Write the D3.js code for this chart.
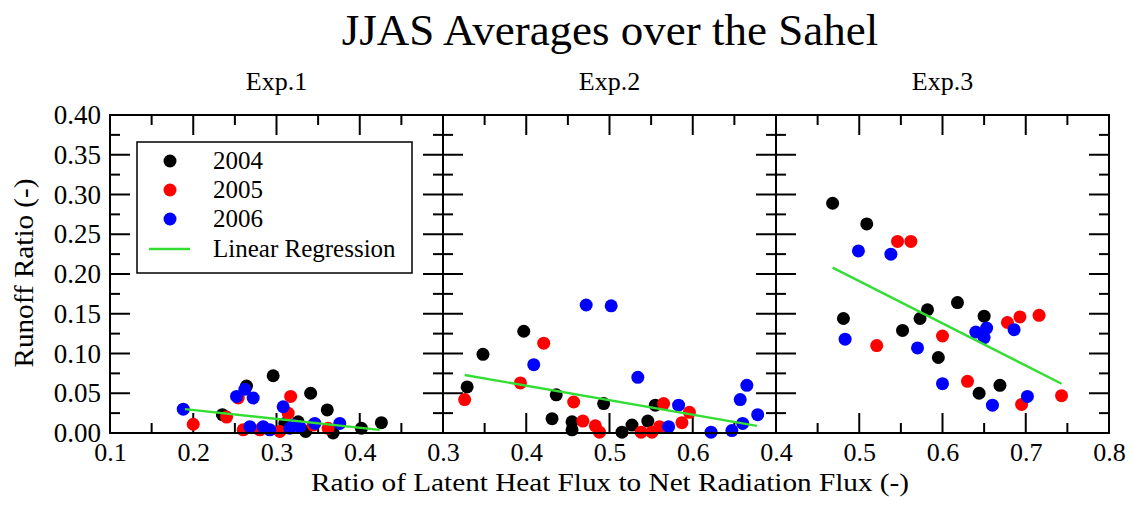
<!DOCTYPE html>
<html><head><meta charset="utf-8">
<script src="https://cdn.jsdelivr.net/npm/d3@7"></script>
<style>body{margin:0;background:#fff}svg{display:block;font-family:"Liberation Serif","Times New Roman",serif}</style>
</head><body><svg id="c" width="1132" height="505"></svg>
<script>
// ---- data ----
const panels = ["Exp.1", "Exp.2", "Exp.3"];
const years = ["2004", "2005", "2006"];
const xDomains = [[0.1, 0.5], [0.3, 0.7], [0.4, 0.8]];
const xTickLabels = [[0.1, 0.2, 0.3, 0.4], [0.3, 0.4, 0.5, 0.6], [0.4, 0.5, 0.6, 0.7, 0.8]];
const yTickLabels = [0, 0.05, 0.1, 0.15, 0.2, 0.25, 0.3, 0.35, 0.4];

// Exp.1 points [x, y]
const exp1_2004 = [[0.296,0.072],[0.341,0.050],[0.361,0.029],[0.264,0.059],[0.235,0.023],[0.326,0.014],[0.402,0.006],[0.426,0.013],[0.335,0.002],[0.368,0.000],[0.310,0.012]];
const exp1_2005 = [[0.200,0.011],[0.240,0.020],[0.317,0.046],[0.314,0.025],[0.260,0.004],[0.254,0.044],[0.304,0.002],[0.362,0.006],[0.344,0.010],[0.280,0.004]];
const exp1_2006 = [[0.188,0.030],[0.252,0.046],[0.262,0.055],[0.272,0.044],[0.308,0.033],[0.268,0.008],[0.284,0.008],[0.292,0.004],[0.316,0.006],[0.328,0.008],[0.346,0.012],[0.376,0.012],[0.320,0.010]];
const exp1_fit = [[0.190,0.030],[0.424,0.004]];

// Exp.2 points
const exp2_2004 = [[0.397,0.128],[0.348,0.099],[0.329,0.058],[0.436,0.048],[0.431,0.018],[0.455,0.014],[0.455,0.004],[0.493,0.037],[0.515,0.001],[0.527,0.010],[0.546,0.015],[0.555,0.035]];
const exp2_2005 = [[0.326,0.042],[0.393,0.063],[0.421,0.113],[0.457,0.039],[0.468,0.015],[0.483,0.009],[0.488,0.001],[0.538,0.001],[0.551,0.001],[0.560,0.008],[0.565,0.037],[0.587,0.013],[0.596,0.026]];
const exp2_2006 = [[0.472,0.161],[0.502,0.160],[0.409,0.086],[0.534,0.070],[0.583,0.035],[0.571,0.008],[0.622,0.001],[0.647,0.003],[0.657,0.042],[0.665,0.060],[0.678,0.023],[0.660,0.012]];
const exp2_fit = [[0.326,0.073],[0.677,0.009]];

// Exp.3 points
const exp3_2004 = [[0.468,0.289],[0.509,0.263],[0.481,0.144],[0.582,0.155],[0.573,0.144],[0.552,0.129],[0.618,0.164],[0.650,0.147],[0.595,0.095],[0.644,0.050],[0.669,0.060]];
const exp3_2005 = [[0.546,0.241],[0.562,0.241],[0.521,0.110],[0.600,0.122],[0.630,0.065],[0.678,0.139],[0.693,0.146],[0.716,0.148],[0.695,0.036],[0.743,0.047]];
const exp3_2006 = [[0.499,0.229],[0.538,0.225],[0.483,0.118],[0.570,0.107],[0.600,0.062],[0.640,0.127],[0.653,0.132],[0.650,0.120],[0.686,0.130],[0.660,0.035],[0.702,0.046]];
const exp3_fit = [[0.468,0.208],[0.743,0.062]];

const series = [
  [exp1_2004, exp1_2005, exp1_2006],
  [exp2_2004, exp2_2005, exp2_2006],
  [exp3_2004, exp3_2005, exp3_2006]
];
const fits = [exp1_fit, exp2_fit, exp3_fit];
const colors = ["#000000", "#ff0000", "#0000ff"];
const fitColor = "#33dd33";

// ---- layout ----
const svg = d3.select("#c");
const pTop = 115, pBottom = 433, left0 = 110, pw = 333;
const y = d3.scaleLinear().domain([0, 0.4]).range([pBottom, pTop]);

svg.append("text").attr("x", 610).attr("y", 45).attr("text-anchor", "middle")
  .attr("font-size", 45).text("JJAS Averages over the Sahel");

panels.forEach((name, i) => {
  const x0 = left0 + i * pw;
  const x = d3.scaleLinear().domain(xDomains[i]).range([x0, x0 + pw]);
  const g = svg.append("g");

  svg.append("text").attr("x", x0 + pw / 2).attr("y", 90).attr("text-anchor", "middle")
    .attr("font-size", 26).text(name);

  const xMinor = d3.range(xDomains[i][0] + 0.05, xDomains[i][1] - 0.001, 0.1);
  const yMinor = d3.range(0.025, 0.4, 0.05);
  const xMajor = d3.range(xDomains[i][0] + 0.1, xDomains[i][1] - 0.001, 0.1);
  const yMajor = d3.range(0.05, 0.4 - 0.001, 0.05);

  const tickG = g.append("g").attr("stroke", "#000").attr("stroke-width", 2);
  const addT = (x1, y1, x2, y2) => tickG.append("line").attr("x1", x1).attr("y1", y1).attr("x2", x2).attr("y2", y2);
  xMinor.forEach(v => { addT(x(v), pBottom, x(v), pBottom - 10); addT(x(v), pTop, x(v), pTop + 10); });
  xMajor.forEach(v => { addT(x(v), pBottom, x(v), pBottom - 20); addT(x(v), pTop, x(v), pTop + 20); });
  yMinor.forEach(v => { addT(x0, y(v), x0 + 10, y(v)); addT(x0 + pw, y(v), x0 + pw - 10, y(v)); });
  yMajor.forEach(v => { addT(x0, y(v), x0 + 20, y(v)); addT(x0 + pw, y(v), x0 + pw - 20, y(v)); });

  const ax = d3.axisBottom(x).tickValues(xTickLabels[i]).tickFormat(d3.format(".1f")).tickSize(0).tickPadding(9.5);
  const axg = g.append("g").attr("transform", `translate(0,${pBottom})`).call(ax);
  axg.select(".domain").remove();
  axg.selectAll("text").attr("font-size", 26).attr("font-family", "Liberation Serif").attr("fill", "#000");

  series[i].forEach((pts, k) => {
    g.append("g").selectAll("circle").data(pts).join("circle")
      .attr("cx", d => x(d[0])).attr("cy", d => y(d[1])).attr("r", 6.5).attr("fill", colors[k]);
  });
  g.append("path").datum(fits[i]).attr("d", d3.line().x(d => x(d[0])).y(d => y(d[1])))
    .attr("stroke", fitColor).attr("stroke-width", 2.4).attr("fill", "none");

  g.append("rect").attr("x", x0).attr("y", pTop).attr("width", pw).attr("height", pBottom - pTop)
    .attr("fill", "none").attr("stroke", "#000").attr("stroke-width", 2);
});

const ay = d3.axisLeft(y).tickValues(yTickLabels).tickFormat(d3.format(".2f")).tickSize(0).tickPadding(9);
const ayg = svg.append("g").attr("transform", `translate(${left0},0)`).call(ay);
ayg.select(".domain").remove();
ayg.selectAll("text").attr("font-size", 27).attr("font-family", "Liberation Serif").attr("fill", "#000");

svg.append("text").attr("transform", "translate(33,273) rotate(-90)").attr("text-anchor", "middle")
  .attr("font-size", 27).attr("textLength", 189).attr("lengthAdjust", "spacingAndGlyphs").text("Runoff Ratio (-)");
svg.append("text").attr("x", 610).attr("y", 491).attr("text-anchor", "middle")
  .attr("font-size", 26).attr("textLength", 598).attr("lengthAdjust", "spacingAndGlyphs")
  .text("Ratio of Latent Heat Flux to Net Radiation Flux (-)");

const lg = svg.append("g");
lg.append("rect").attr("x", 137).attr("y", 142).attr("width", 275).attr("height", 131)
  .attr("fill", "#fff").attr("stroke", "#000").attr("stroke-width", 1.5);
years.forEach((yr, k) => {
  const cy = 161 + k * 29;
  lg.append("circle").attr("cx", 170).attr("cy", cy).attr("r", 6.5).attr("fill", colors[k]);
  lg.append("text").attr("x", 213).attr("y", cy + 8).attr("font-size", 25).text(yr);
});
lg.append("line").attr("x1", 149).attr("x2", 190).attr("y1", 249).attr("y2", 249)
  .attr("stroke", fitColor).attr("stroke-width", 2.4);
lg.append("text").attr("x", 213).attr("y", 257).attr("font-size", 25).text("Linear Regression");
</script></body></html>
